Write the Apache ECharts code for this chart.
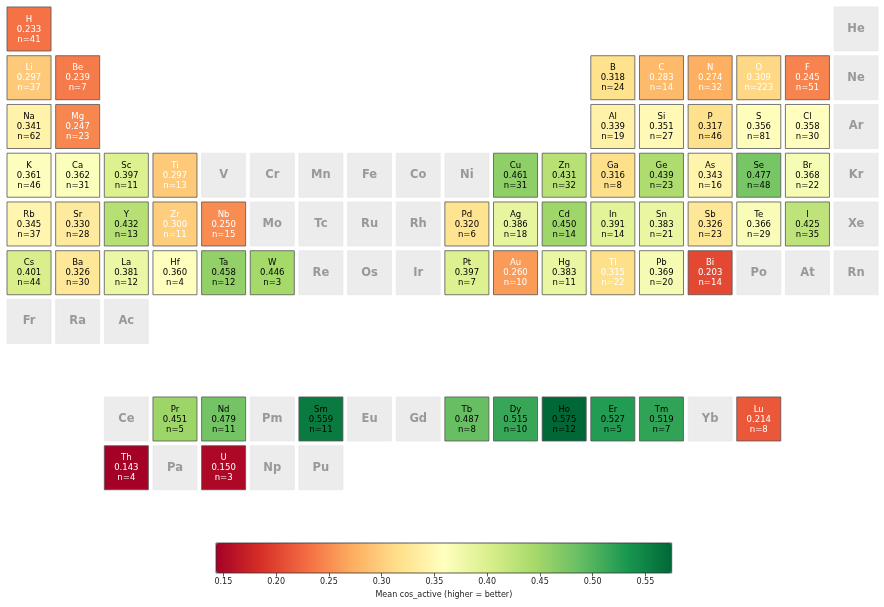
<!DOCTYPE html>
<html>
<head>
<meta charset="UTF-8">
<title>Mean cos_active by element</title>
<script src="https://cdn.jsdelivr.net/npm/echarts@6/dist/echarts.min.js"></script>
<style>
  html, body { margin: 0; padding: 0; background: #fff; }
  #main { width: 884px; height: 607px; }
</style>
</head>
<body>
<div id="main"></div>
<script type="text/javascript">
// each entry: [symbol, group, mean cos_active, n]; no mean = no data
var period1 = [['H', 1, 0.233, 41], ['He', 18]];
var period2 = [['Li', 1, 0.297, 37], ['Be', 2, 0.239, 7], ['B', 13, 0.318, 24], ['C', 14, 0.283, 14],
  ['N', 15, 0.274, 32], ['O', 16, 0.309, 223], ['F', 17, 0.245, 51], ['Ne', 18]];
var period3 = [['Na', 1, 0.341, 62], ['Mg', 2, 0.247, 23], ['Al', 13, 0.339, 19], ['Si', 14, 0.351, 27],
  ['P', 15, 0.317, 46], ['S', 16, 0.356, 81], ['Cl', 17, 0.358, 30], ['Ar', 18]];
var period4 = [['K', 1, 0.361, 46], ['Ca', 2, 0.362, 31], ['Sc', 3, 0.397, 11], ['Ti', 4, 0.297, 13],
  ['V', 5], ['Cr', 6], ['Mn', 7], ['Fe', 8], ['Co', 9], ['Ni', 10],
  ['Cu', 11, 0.461, 31], ['Zn', 12, 0.431, 32], ['Ga', 13, 0.316, 8], ['Ge', 14, 0.439, 23],
  ['As', 15, 0.343, 16], ['Se', 16, 0.477, 48], ['Br', 17, 0.368, 22], ['Kr', 18]];
var period5 = [['Rb', 1, 0.345, 37], ['Sr', 2, 0.330, 28], ['Y', 3, 0.432, 13], ['Zr', 4, 0.300, 11],
  ['Nb', 5, 0.250, 15], ['Mo', 6], ['Tc', 7], ['Ru', 8], ['Rh', 9],
  ['Pd', 10, 0.320, 6], ['Ag', 11, 0.386, 18], ['Cd', 12, 0.450, 14], ['In', 13, 0.391, 14],
  ['Sn', 14, 0.383, 21], ['Sb', 15, 0.326, 23], ['Te', 16, 0.366, 29], ['I', 17, 0.425, 35], ['Xe', 18]];
var period6 = [['Cs', 1, 0.401, 44], ['Ba', 2, 0.326, 30], ['La', 3, 0.381, 12], ['Hf', 4, 0.360, 4],
  ['Ta', 5, 0.458, 12], ['W', 6, 0.446, 3], ['Re', 7], ['Os', 8], ['Ir', 9],
  ['Pt', 10, 0.397, 7], ['Au', 11, 0.260, 10], ['Hg', 12, 0.383, 11], ['Tl', 13, 0.315, 22],
  ['Pb', 14, 0.369, 20], ['Bi', 15, 0.203, 14], ['Po', 16], ['At', 17], ['Rn', 18]];
var period7 = [['Fr', 1], ['Ra', 2], ['Ac', 3]];
var lanthanides = [['Ce', 3], ['Pr', 4, 0.451, 5], ['Nd', 5, 0.479, 11], ['Pm', 6], ['Sm', 7, 0.559, 11],
  ['Eu', 8], ['Gd', 9], ['Tb', 10, 0.487, 8], ['Dy', 11, 0.515, 10], ['Ho', 12, 0.575, 12],
  ['Er', 13, 0.527, 5], ['Tm', 14, 0.519, 7], ['Yb', 15], ['Lu', 16, 0.214, 8]];
var actinides = [['Th', 3, 0.143, 4], ['Pa', 4], ['U', 5, 0.150, 3], ['Np', 6], ['Pu', 7]];

var colorTicks = [0.15, 0.20, 0.25, 0.30, 0.35, 0.40, 0.45, 0.50, 0.55];
var vmin = 0.143, vmax = 0.575;
var rdylgn = ['#a50026', '#d73027', '#f46d43', '#fdae61', '#fee08b', '#ffffbf',
  '#d9ef8b', '#a6d96a', '#66bd63', '#1a9850', '#006837'];

// row number on the y axis (row 8 is the gap before the f-block)
var tableRows = [[1, period1], [2, period2], [3, period3], [4, period4], [5, period5],
  [6, period6], [7, period7], [9, lanthanides], [10, actinides]];

var measured = [], missing = [];
tableRows.forEach(function (r) {
  r[1].forEach(function (e) {
    if (e.length > 2) measured.push({ value: [e[1], r[0], e[2], e[3]], sym: e[0] });
    else missing.push({ value: [e[1], r[0]], sym: e[0] });
  });
});

var FONT = 'DejaVu Sans';

function cellRect(api) {
  var c = api.coord([api.value(0), api.value(1)]);
  var s = api.size([1, 1]);
  var w = s[0] * 0.905, h = s[1] * 0.903;
  return { c: c, shape: { x: c[0] - w / 2, y: c[1] - h / 2, width: w, height: h } };
}

var myChart = echarts.init(document.getElementById('main'));
myChart.setOption({
  animation: false,
  grid: [
    { left: 4.7, top: 4.6, width: 875.7, height: 487.5 },
    { left: 216, top: 543, width: 455.7, height: 30, show: true, z: 10,
      backgroundColor: 'transparent', borderColor: '#333', borderWidth: 0.8 }
  ],
  xAxis: [
    { gridIndex: 0, type: 'value', min: 0.5, max: 18.5, show: false },
    { gridIndex: 1, type: 'value', min: vmin, max: vmax, position: 'bottom',
      splitLine: { show: false },
      axisLine: { show: false },
      axisTick: { show: true, customValues: colorTicks, length: 3.5, lineStyle: { color: '#333', width: 0.8 } },
      axisLabel: { customValues: colorTicks, margin: 5, fontSize: 8, color: '#222', fontFamily: FONT,
        formatter: function (v) { return v.toFixed(2); } },
      name: 'Mean cos_active (higher = better)', nameLocation: 'middle', nameGap: 18,
      nameTextStyle: { fontSize: 8, color: '#222', fontFamily: FONT } }
  ],
  yAxis: [
    { gridIndex: 0, type: 'value', min: 0.5, max: 10.5, inverse: true, show: false },
    { gridIndex: 1, type: 'value', min: 0, max: 1, show: false }
  ],
  visualMap: {
    type: 'continuous', seriesIndex: 0, dimension: 2,
    min: vmin, max: vmax, calculable: false, showLabel: false, text: null,
    orient: 'horizontal', left: 216, top: 543, padding: 0,
    itemWidth: 30, itemHeight: 455.7,
    inRange: { color: rdylgn }
  },
  series: [
    {
      type: 'custom', xAxisIndex: 0, yAxisIndex: 0,
      data: measured,
      renderItem: function (params, api) {
        var r = cellRect(api);
        var d = measured[params.dataIndex];
        var v = d.value[2];
        return {
          type: 'group',
          children: [
            { type: 'rect', shape: r.shape,
              style: { fill: api.visual('color'), stroke: '#555', lineWidth: 0.8 } },
            { type: 'text', x: r.c[0], y: r.c[1] + 0.5,
              style: { text: d.sym + '\n' + v.toFixed(3) + '\nn=' + d.value[3],
                fill: v < 0.3155 ? '#ffffff' : '#000000',
                fontSize: 8.5, fontFamily: FONT, lineHeight: 10,
                align: 'center', verticalAlign: 'middle' } }
          ]
        };
      }
    },
    {
      type: 'custom', xAxisIndex: 0, yAxisIndex: 0,
      data: missing,
      renderItem: function (params, api) {
        var r = cellRect(api);
        var d = missing[params.dataIndex];
        return {
          type: 'group',
          children: [
            { type: 'rect', shape: r.shape, style: { fill: '#ececec', stroke: '#e4e4e4', lineWidth: 0.6 } },
            { type: 'text', x: r.c[0], y: r.c[1],
              style: { text: d.sym, fill: '#999999', fontSize: 11.5, fontWeight: 'bold',
                fontFamily: FONT, align: 'center', verticalAlign: 'middle' } }
          ]
        };
      }
    }
  ]
});
</script>
</body>
</html>
